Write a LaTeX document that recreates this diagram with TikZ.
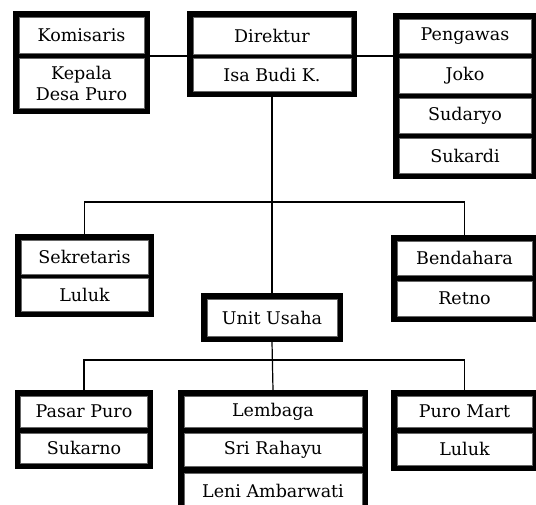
\documentclass[tikz,border=0pt]{standalone}
\usepackage{fontspec}
\setmainfont{DejaVu Serif}
\usetikzlibrary{fit,backgrounds,calc}

\tikzset{
  cell/.style={draw=black!60, line width=0.6pt, fill=white, inner sep=0pt,
    align=center, font=\fontsize{17.5}{21}\selectfont},
  frame/.style={fill=black, inner sep=5.5pt},
  link/.style={line width=1.2pt}
}

\begin{document}
\begin{tikzpicture}[x=1pt, y=-1pt]
    \clip (0,0) rectangle (536,504);

    % Draw nodes (top row)
    \node[cell, minimum width=125, minimum height=36] (kom) at (81.5,35) {Komisaris};
    \node[cell, minimum width=125, minimum height=50] (kep) at (81.5,83) {Kepala\\Desa Puro};
    \node[cell, minimum width=158, minimum height=37] (dir) at (272,35.5) {Direktur};
    \node[cell, minimum width=158, minimum height=33] (isa) at (272,74.5) {Isa Budi K.};
    \node[cell, minimum width=132, minimum height=34] (peng) at (465,36) {Pengawas};
    \node[cell, minimum width=132, minimum height=35] (joko) at (465,75.5) {Joko};
    \node[cell, minimum width=132, minimum height=35] (sud) at (465,115.5) {Sudaryo};
    \node[cell, minimum width=132, minimum height=35] (suk) at (465,155.5) {Sukardi};

    % Draw nodes (middle row)
    \node[cell, minimum width=127, minimum height=34] (sek) at (84.5,257) {Sekretaris};
    \node[cell, minimum width=127, minimum height=33] (luluka) at (84.5,295) {Luluk};
    \node[cell, minimum width=135, minimum height=34] (bend) at (464.5,258) {Bendahara};
    \node[cell, minimum width=135, minimum height=35] (retno) at (464.5,298.5) {Retno};
    \node[cell, minimum width=130, minimum height=37] (unit) at (272,317.5) {Unit Usaha};

    % Draw nodes (bottom row)
    \node[cell, minimum width=127, minimum height=31] (pasar) at (84,411.5) {Pasar Puro};
    \node[cell, minimum width=127, minimum height=30] (sukarno) at (84,448) {Sukarno};
    \node[cell, minimum width=178, minimum height=31] (lemb) at (273,411.5) {Lembaga};
    \node[cell, minimum width=178, minimum height=33] (sri) at (273,449.5) {Sri Rahayu};
    \node[cell, minimum width=178, minimum height=35] (leni) at (273,490.5) {Leni Ambarwati};
    \node[cell, minimum width=135, minimum height=31] (puro) at (464.5,411.5) {Puro Mart};
    \node[cell, minimum width=135, minimum height=32] (lulukb) at (464.5,449) {Luluk};

    % Thick black frames behind the cells
    \begin{scope}[on background layer]
        \node[frame, fit=(kom)(kep)] (komframe) {};
        \node[frame, fit=(dir)(isa)] (dirframe) {};
        \node[frame, fit=(peng)(suk)] (pengframe) {};
        \node[frame, fit=(sek)(luluka)] (sekframe) {};
        \node[frame, fit=(bend)(retno)] (bendframe) {};
        \node[frame, fit=(unit)] (unitframe) {};
        \node[frame, fit=(pasar)(sukarno)] (pasarframe) {};
        \node[frame, fit=(lemb)(leni)] (lembframe) {};
        \node[frame, fit=(puro)(lulukb)] (puroframe) {};
    \end{scope}

    % Draw edges
    \coordinate (dirsep) at ($(dir.south)!0.5!(isa.north)$);
    \coordinate (bus1) at (272,202);
    \coordinate (bus2) at (272,360);
    \draw[link] (komframe.east |- dirsep) -- (dirframe.west |- dirsep);
    \draw[link] (dirframe.east |- dirsep) -- (pengframe.west |- dirsep);
    \draw[link] (dirframe.south) -- (unitframe.north);
    \draw[link] (sekframe.north) |- (bus1) -| (bendframe.north);
    \draw[link] (unitframe.south) -- (lembframe.north);
    \draw[link] (pasarframe.north) |- (bus2) -| (puroframe.north);
\end{tikzpicture}
\end{document}
